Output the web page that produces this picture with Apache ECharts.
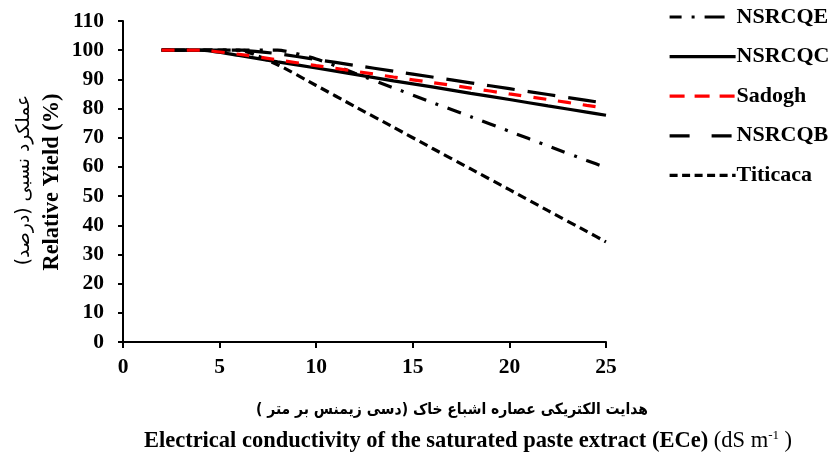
<!DOCTYPE html>
<html>
<head>
<meta charset="utf-8">
<script src="https://cdn.jsdelivr.net/npm/echarts@6/dist/echarts.min.js"></script>
<style>
  html, body { margin: 0; padding: 0; background: #fff; }
  #chart { width: 832px; height: 457px; }
</style>
</head>
<body>
<div id="chart"></div>
<script>
// Electrical conductivity (dS/m) at which relative yield was evaluated
const ec = [2, 4, 6, 8, 10, 12, 14, 16, 18, 20, 22, 24, 25];

// Relative yield (%) of each cultivar
const nsrcqe   = [100, 100, 100, 100, 97.0, 92.1, 87.1, 82.1, 77.2, 72.2, 67.2, 62.2, 59.8];
const nsrcqc   = [100, 100, 98.2, 96.0, 93.9, 91.7, 89.5, 87.4, 85.2, 83.1, 80.9, 78.8, 77.7];
const sadogh   = [100, 100, 98.6, 96.7, 94.7, 92.8, 90.8, 88.9, 87.0, 85.0, 83.1, 81.1, 80.2];
const nsrcqb   = [100, 100, 100, 98.8, 96.8, 94.8, 92.8, 90.8, 88.8, 86.8, 84.8, 82.8, 81.8];
const titicaca = [100, 100, 100, 95.0, 87.9, 80.7, 73.6, 66.4, 59.3, 52.2, 45.0, 37.9, 34.3];

const seriesNames = ['NSRCQE', 'NSRCQC', 'Sadogh', 'NSRCQB', 'Titicaca'];
const xTicks = [0, 5, 10, 15, 20, 25];
const yTicks = [0, 10, 20, 30, 40, 50, 60, 70, 80, 90, 100, 110];

const SERIF = "'Liberation Serif', 'DejaVu Serif', serif";
const RTL = s => '\u202B' + s + '\u202C';

const pairs = vals => ec.map((x, i) => [x, vals[i]]);

// line dash patterns for the plot and for the legend samples
const styles = [
  { color: '#000', type: [14, 10, 3, 10],   legend: [12, 10, 3, 10, 20, 20] },
  { color: '#000', type: 'solid',           legend: 'solid' },
  { color: '#ff0000', type: [13, 12],       legend: [15, 10] },
  { color: '#000', type: [28, 13],          legend: [20, 22] },
  { color: '#000', type: [9, 5],            legend: [8, 4.5] }
];
const values = [nsrcqe, nsrcqc, sadogh, nsrcqb, titicaca];

const chart = echarts.init(document.getElementById('chart'), null, { renderer: 'canvas' });

chart.setOption({
  animation: false,
  backgroundColor: '#fff',
  grid: { left: 123, right: 226, top: 21, bottom: 115, containLabel: false },
  legend: {
    orient: 'vertical',
    left: 663,
    top: 1,
    itemWidth: 66,
    itemHeight: 22,
    itemGap: 17.6,
    itemStyle: { opacity: 0 },
    textStyle: { fontFamily: SERIF, fontWeight: 'bold', fontSize: 22, color: '#000', padding: [0, 0, 0, -4] },
    data: seriesNames.map((n, i) => ({
      name: n,
      lineStyle: { color: styles[i].color, width: 3.2, type: styles[i].legend }
    }))
  },
  xAxis: {
    type: 'value',
    min: xTicks[0],
    max: xTicks[xTicks.length - 1],
    interval: 5,
    axisLine: { show: true, onZero: false, lineStyle: { color: '#000', width: 2 } },
    axisTick: { show: true, inside: false, length: 6, lineStyle: { color: '#000', width: 2 } },
    axisLabel: { margin: 14, fontFamily: SERIF, fontWeight: 'bold', fontSize: 21.5, color: '#000' },
    splitLine: { show: false }
  },
  yAxis: {
    type: 'value',
    min: yTicks[0],
    max: yTicks[yTicks.length - 1],
    interval: 10,
    axisLine: { show: true, lineStyle: { color: '#000', width: 2 } },
    axisTick: { show: true, inside: false, length: 5, lineStyle: { color: '#000', width: 2 } },
    axisLabel: { margin: 19, fontFamily: SERIF, fontWeight: 'bold', fontSize: 21.5, color: '#000' },
    splitLine: { show: false }
  },
  series: values.map((v, i) => ({
    name: seriesNames[i],
    type: 'line',
    data: pairs(v),
    symbol: 'none',
    smooth: 0.2,
    color: styles[i].color,
    lineStyle: { color: styles[i].color, width: 3.2, type: styles[i].type },
    z: i === 2 ? 4 : 3
  })),
  graphic: [
    {
      type: 'text',
      x: 452, y: 410,
      style: {
        text: RTL('هدایت الکتریکی عصاره اشباع خاک (دسی زیمنس بر متر )'),
        font: "bold 15.5px 'DejaVu Sans Condensed', 'DejaVu Sans', sans-serif",
        fill: '#000',
        align: 'center',
        verticalAlign: 'middle'
      }
    },
    {
      type: 'text',
      x: 468, y: 441,
      style: {
        text: '{b|Electrical conductivity of the saturated paste extract (ECe) }{r|(dS m}{s|-1}{r| )}',
        align: 'center',
        verticalAlign: 'middle',
        fill: '#000',
        rich: {
          b: { fontFamily: SERIF, fontWeight: 'bold', fontSize: 22.5, fill: '#000' },
          r: { fontFamily: SERIF, fontWeight: 'normal', fontSize: 22.5, fill: '#000' },
          s: { fontFamily: SERIF, fontWeight: 'normal', fontSize: 13, fill: '#000', verticalAlign: 'top' }
        }
      }
    },
    {
      type: 'text',
      rotation: Math.PI / 2,
      x: 24, y: 180,
      style: {
        text: RTL('عملکرد نسبی (درصد)'),
        font: "18.8px 'DejaVu Sans', sans-serif",
        fill: '#000',
        align: 'center',
        verticalAlign: 'middle'
      }
    },
    {
      type: 'text',
      rotation: Math.PI / 2,
      x: 52, y: 182,
      style: {
        text: 'Relative Yield (%)',
        font: "bold 22.4px " + SERIF,
        fill: '#000',
        align: 'center',
        verticalAlign: 'middle'
      }
    }
  ]
});
</script>
</body>
</html>
